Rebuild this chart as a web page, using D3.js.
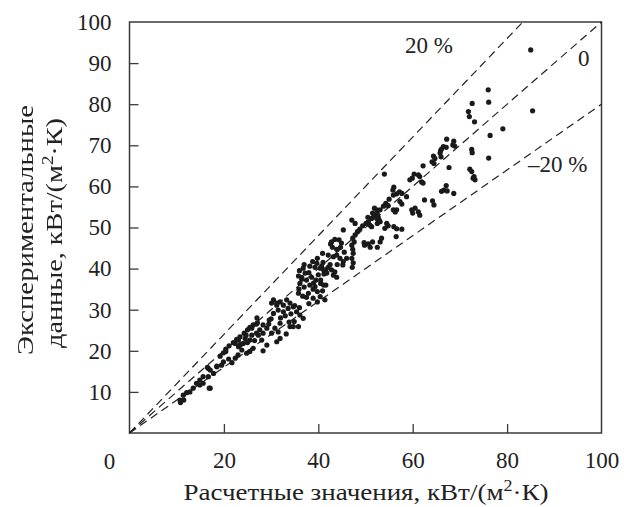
<!DOCTYPE html>
<html>
<head>
<meta charset="utf-8">
<script src="https://cdn.jsdelivr.net/npm/d3@7/dist/d3.min.js"></script>
<style>
  body { margin: 0; background: #fff; }
  text { font-family: "Liberation Serif", "Times New Roman", serif; fill: #222; }
</style>
</head>
<body>
<div id="chart"></div>
<script>
// calculated values (x) and experimental values (y), kW/(m2 K)
var calcValues = [
  85.0,76.0,72.6,76.1,85.4,71.8,72.0,73.1,79.1,76.4,67.2,68.7,66.5,67.1,66.1,68.9,72.5,72.6,76.1,67.7,72.1,72.5,73.0,66.0,
  68.5,65.9,65.8,64.4,64.7,64.1,64.5,62.2,72.8,73.2,54.0,60.3,61.2,61.5,59.9,59.4,61.9,62.2,67.1,66.6,66.1,67.3,68.7,
  56.0,55.8,57.2,56.6,57.7,58.7,64.2,64.5,62.5,54.3,53.8,54.8,57.3,57.7,51.9,52.4,51.5,52.0,52.7,53.1,52.5,55.9,56.6,56.3,
  59.8,60.5,61.2,60.0,61.5,54.1,56.0,56.6,57.7,56.5,50.9,51.3,53.4,
  55.9,55.0,53.1,52.5,51.8,51.3,50.6,50.1,49.4,48.8,48.3,47.8,47.3,47.6,47.1,47.3,47.4,47.1,47.4,47.2,
  52.4,52.9,54.5,54.8,45.3,47.1,47.8,49.7,50.6,51.5,53.1,51.0,52.5,49.8,50.5,
  42.8,43.5,44.4,44.9,44.7,43.9,43.0,42.6,
  40.9,42.1,43.2,43.9,44.6,45.3,45.2,38.8,39.7,38.2,39.3,40.4,41.1,42.1,42.8,43.5,41.8,43.2,43.9,
  36.8,37.2,36.5,37.5,36.1,38.2,39.3,40.5,41.1,
  39.8,41.6,41.2,40.7,35.8,36.5,38.6,39.5,40.5,41.6,38.9,39.8,40.9,37.0,35.8,36.7,37.9,38.9,39.8,40.4,41.4,35.9,
  30.5,31.2,31.9,32.6,33.3,34.0,33.6,34.7,31.5,32.6,30.5,35.4,36.1,36.8,
  34.9,35.8,34.0,31.9,30.8,31.5,30.1,31.9,31.2,28.3,29.1,27.6,26.9,25.9,25.5,24.5,24.1,23.1,22.4,29.6,
  27.1,26.2,25.5,25.0,24.3,23.4,22.7,22.0,21.1,20.4,19.9,19.2,
  27.3,28.3,28.0,26.2,25.5,24.8,23.8,23.0,22.4,21.7,
  19.5,18.5,17.1,17.8,16.7,15.6,14.9,14.2,15.6,17.1,13.5,12.8,12.1,11.4,10.7,
  33.2,28.3,29.1,16.9,10.8,11.5,14.9,16.7,19.9,20.4,34.7,16.5,18.5,23.1,24.7,25.9,26.9,30.1,31.2,
  33.0,34.2,32.0,29.5,30.0,33.8,35.0,37.5,38.0,36.0,39.0,40.0,38.0,37.0,36.0,41.0,42.5,44.0,45.5,46.0,
  27.0,25.0,26.5,21.0,23.5
];
var expValues = [
  93.2,83.5,80.2,80.5,78.4,78.2,77.0,75.7,74.0,72.4,71.5,71.0,69.7,69.5,69.1,69.8,69.0,68.2,66.9,64.6,64.2,63.6,62.4,67.2,
  70.1,68.7,68.1,67.4,66.8,66.0,65.6,65.0,62.0,61.6,63.0,63.0,62.8,62.4,62.0,61.6,61.1,60.8,60.2,59.1,58.8,58.9,58.3,
  59.8,59.1,58.7,58.2,58.3,57.5,56.5,55.5,56.7,55.9,55.2,55.3,56.3,55.7,54.7,54.3,53.5,53.0,52.5,51.4,51.0,54.3,54.3,53.8,
  54.3,54.7,53.8,53.5,53.0,49.8,50.2,49.7,49.6,47.8,50.6,50.2,47.4,
  57.9,56.9,54.3,53.3,52.8,52.2,51.4,51.0,50.4,49.6,49.0,48.2,47.4,46.5,45.7,44.7,43.7,42.5,41.4,40.3,
  52.2,51.8,51.0,50.4,49.4,51.8,51.0,46.3,46.0,46.5,46.5,45.2,45.2,45.7,52.5,
  46.5,47.1,47.0,46.2,45.2,44.7,45.2,46.0,
  43.7,43.3,42.9,43.3,42.5,41.7,40.9,41.7,41.3,40.6,40.3,40.1,39.7,40.3,39.7,39.2,38.9,38.4,37.9,
  40.1,38.9,37.9,37.2,36.4,36.0,35.6,37.2,36.0,
  42.5,39.7,38.7,40.6,38.2,37.4,37.9,37.2,36.4,36.0,35.0,34.4,34.6,35.5,34.0,33.3,34.0,32.8,31.9,33.2,32.4,35.0,
  32.4,31.6,31.9,31.1,32.4,31.6,30.3,30.7,29.9,29.5,29.1,29.5,28.7,27.9,
  27.1,25.9,25.9,26.7,25.5,24.6,24.3,23.0,22.2,26.3,25.5,25.1,24.3,23.8,22.6,23.0,21.8,21.0,21.8,27.5,
  26.8,26.3,25.7,25.1,24.3,23.4,22.8,22.0,21.2,20.4,19.5,18.7,
  23.8,24.3,22.6,20.6,19.8,19.4,20.2,19.0,18.2,17.1,
  16.5,16.1,15.3,14.5,13.7,13.7,12.9,12.1,12.1,10.9,10.9,10.0,9.8,9.2,8.0,
  24.1,20.0,21.4,10.9,7.4,8.0,11.7,15.7,17.3,19.8,25.9,16.0,16.3,22.6,23.8,25.5,26.5,31.6,31.1,
  28.5,29.0,28.0,26.5,27.8,27.0,31.0,33.0,31.5,30.5,36.5,38.5,39.0,41.0,39.5,41.5,41.0,41.0,44.0,42.5,
  28.0,22.0,22.5,18.0,21.5
];

var xTicks = [20, 40, 60, 80, 100];
var yTicks = [10, 20, 30, 40, 50, 60, 70, 80, 90, 100];
// deviation lines: y = k * x
var lineSlopes = [1.2, 1.0, 0.8];
var lineNames = ["20 %", "0", "\u201320 %"];

var width = 624, height = 507;
var plotLeft = 129.5, plotRight = 601.5, plotTop = 22, plotBottom = 433;

var svg = d3.select("#chart").append("svg")
    .attr("width", width)
    .attr("height", height);

// grayscale filter, keeps rotated text from colour fringes
svg.append("defs").append("filter").attr("id", "gray")
  .append("feColorMatrix").attr("type", "saturate").attr("values", 0);

var x = d3.scaleLinear().domain([0, 100]).range([plotLeft, plotRight]);
var y = d3.scaleLinear().domain([0, 100]).range([plotBottom, plotTop]);

// frame
svg.append("rect")
    .attr("x", plotLeft).attr("y", plotTop)
    .attr("width", plotRight - plotLeft).attr("height", plotBottom - plotTop)
    .attr("fill", "none").attr("stroke", "#3a3a3a").attr("stroke-width", 1.5);

var xAxis = svg.append("g")
    .attr("transform", "translate(0," + plotBottom + ")")
    .call(d3.axisBottom(x).tickValues(xTicks).tickSize(-9).tickPadding(19).tickFormat(d3.format("d")));
var yAxis = svg.append("g")
    .attr("transform", "translate(" + plotLeft + ",0)")
    .call(d3.axisLeft(y).tickValues(yTicks).tickSize(-9).tickPadding(18).tickFormat(d3.format("d")));

[xAxis, yAxis].forEach(function(g) {
  g.select(".domain").remove();
  g.selectAll(".tick line").attr("stroke", "#3a3a3a").attr("stroke-width", 1.3);
  g.selectAll(".tick text").attr("fill", "#222").style("font-size", "23px")
      .style("font-family", "'Liberation Serif', serif");
});
// no tick mark at 100 (it is the frame)
xAxis.selectAll(".tick").filter(function(d) { return d == 100; }).select("line").remove();
yAxis.selectAll(".tick").filter(function(d) { return d == 100; }).select("line").remove();

// common origin label
svg.append("text")
    .attr("x", x(0) - 20).attr("y", plotBottom + 36)
    .attr("text-anchor", "middle")
    .style("font-size", "23px")
    .text("0");

// dashed reference lines
svg.append("g").selectAll("line")
  .data(lineSlopes)
  .enter().append("line")
    .attr("x1", x(0)).attr("y1", y(0))
    .attr("x2", function(k) { return x(Math.min(100, 100 / k)); })
    .attr("y2", function(k) { return y(Math.min(100, 100 * k)); })
    .attr("stroke", "#222").attr("stroke-width", 1.2)
    .attr("stroke-dasharray", "8,5");

var labelPos = [[405, 53], [578, 66], [528, 172]];
svg.append("g").selectAll("text")
  .data(lineNames)
  .enter().append("text")
    .attr("x", function(d, i) { return labelPos[i][0]; })
    .attr("y", function(d, i) { return labelPos[i][1]; })
    .style("font-size", "23px")
    .text(function(d) { return d; });

// points
var pts = calcValues.map(function(v, i) { return [v, expValues[i]]; });
svg.append("g").selectAll("circle")
  .data(pts)
  .enter().append("circle")
    .attr("cx", function(d) { return x(d[0]); })
    .attr("cy", function(d) { return y(d[1]); })
    .attr("r", 2.6)
    .attr("fill", "#1a1a1a");

// axis titles (stretched to the width of the original font)
function unitTitle(sel, first) {
  sel.append("tspan").text(first + "кВт/(м");
  sel.append("tspan").attr("dy", -9).style("font-size", "16px").text("2");
  sel.append("tspan").attr("dy", 9).text("\u00b7К)");
}
var xt = svg.append("text")
    .attr("x", 366).attr("y", 500)
    .attr("text-anchor", "middle")
    .attr("textLength", 365).attr("lengthAdjust", "spacingAndGlyphs")
    .style("font-size", "24px");
unitTitle(xt, "Расчетные значения, ");

var yTitle = svg.append("g").attr("filter", "url(#gray)");
yTitle.append("text")
    .attr("transform", "translate(33,230) rotate(-90)")
    .attr("text-anchor", "middle")
    .attr("textLength", 250).attr("lengthAdjust", "spacingAndGlyphs")
    .style("font-size", "24px")
    .text("Экспериментальные");
var yt = yTitle.append("text")
    .attr("transform", "translate(62,233) rotate(-90)")
    .attr("text-anchor", "middle")
    .attr("textLength", 230).attr("lengthAdjust", "spacingAndGlyphs")
    .style("font-size", "24px");
unitTitle(yt, "данные, ");
</script>
</body>
</html>
